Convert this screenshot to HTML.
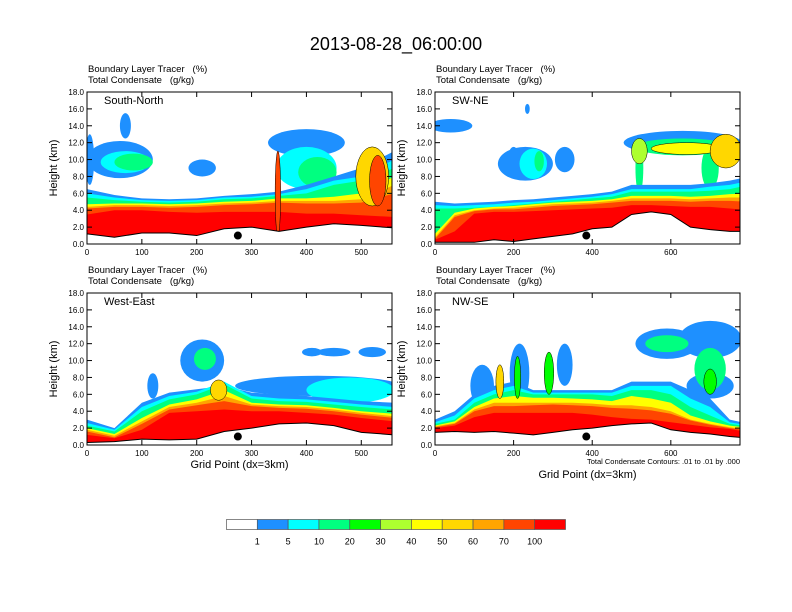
<!DOCTYPE html>
<html><head><meta charset="utf-8"><style>
html,body{margin:0;padding:0;background:#fff;}
svg{display:block;font-family:"Liberation Sans",sans-serif;}
</style></head><body>
<svg id="chart" width="792" height="612" viewBox="0 0 792 612">
<text x="396" y="50" text-anchor="middle" font-size="18">2013-08-28_06:00:00</text>
</svg>
<script>
// ---- data ----
const levelLabels = ["1","5","10","20","30","40","50","60","70","100"];
const levelColors = ["#ffffff","#1e90ff","#00ffff","#00ff80","#00ff00","#adff2f","#ffff00","#ffd700","#ffa500","#ff4500","#ff0000"];

const snXs = [0,50,100,150,200,250,300,350,400,450,500,560];
const snTerrain = [1.2,0.8,1.3,1.3,1.0,1.8,2.0,1.5,2.0,2.4,2.2,1.9];
const snBlue = [6.5,5.8,5.4,5.3,5.4,5.7,5.9,6.2,7.0,8.0,9.0,11.0];
const snCyan = [6.0,5.5,5.2,5.1,5.2,5.5,5.6,5.9,6.5,7.5,8.0,10.0];
const snGreen = [5.5,5.2,5.0,4.9,5.0,5.3,5.4,5.7,6.0,7.0,7.5,9.0];
const snYellow = [4.7,4.8,4.8,4.7,4.8,5.0,5.1,5.4,5.4,5.6,6.0,8.0];
const snOrange = [4.4,4.6,4.6,4.5,4.6,4.8,4.9,5.1,5.1,5.1,5.3,7.0];
const snOrangeRed = [4.2,4.4,4.4,4.3,4.4,4.6,4.7,4.9,4.8,4.8,4.9,6.0];
const snRed = [3.5,4.0,4.0,3.8,3.7,3.8,3.8,3.8,3.6,3.6,3.4,3.2];
const snBlobs = [[60,10,60,2.2,1],[70,9.7,45,1.3,2],[85,9.7,35,1.0,3],[5,10,8,3,1],[70,14,10,1.5,1],[210,9,25,1.0,1],[400,12,70,1.6,1],[400,9,55,2.5,2],[420,8.5,35,1.8,3],[348,6,5,5,9],[520,8,30,3.5,7],[530,7.5,15,3,9]];

const swXs = [0,50,100,150,200,250,300,350,400,450,500,550,600,650,700,750,800];
const swTerrain = [0.2,0.2,0.2,0.5,0.3,0.6,0.9,1.2,1.8,2.0,3.5,3.8,3.5,2.0,1.7,1.5,1.5];
const swBlue = [5.0,4.8,4.9,5.0,5.2,5.3,5.5,5.7,5.9,6.2,7.0,7.0,7.0,7.0,7.2,7.5,8.0];
const swCyan = [4.6,4.5,4.6,4.7,4.9,5.0,5.2,5.4,5.6,5.9,6.5,6.5,6.5,6.5,6.8,7.0,7.5];
const swGreen = [4.2,4.2,4.3,4.4,4.6,4.8,5.0,5.2,5.4,5.6,6.2,6.2,6.2,6.2,6.3,6.5,7.0];
const swYellow = [1.2,3.7,4.2,4.4,4.5,4.7,4.9,5.0,5.1,5.3,5.7,5.7,5.7,5.6,5.7,5.9,6.0];
const swOrange = [0.8,3.4,4.0,4.2,4.3,4.5,4.7,4.8,4.9,5.1,5.4,5.4,5.4,5.3,5.4,5.5,5.5];
const swOrangeRed = [0.6,3.2,3.9,4.1,4.1,4.3,4.5,4.6,4.7,4.9,5.1,5.1,5.1,5.0,5.1,5.1,5.0];
const swRed = [0.5,1.5,3.6,3.8,3.8,3.9,4.0,4.1,4.2,4.3,4.6,4.6,4.5,4.4,4.4,4.2,4.0];
const swBlobs = [[40,14,55,0.8,1],[230,9.5,70,2.0,1],[250,9.5,35,1.8,2],[265,9.8,12,1.2,3],[200,10,15,1.5,1],[330,10,25,1.5,1],[235,16,6,0.6,1],[630,12,150,1.4,1],[630,11.5,120,1.0,3],[640,11.3,90,0.7,6],[520,11,20,1.5,5],[520,9,10,3,3],[740,11,40,2.0,7],[700,9,22,2.5,3]];

const weXs = [0,50,100,150,200,250,300,350,400,450,500,560];
const weTerrain = [0.3,0.4,0.7,0.6,0.7,1.6,2.0,2.5,2.6,2.3,1.5,1.2];
const weBlue = [3.0,2.0,5.0,6.2,6.6,7.0,6.2,6.0,5.8,5.5,5.2,5.0];
const weCyan = [2.6,1.8,4.5,5.8,6.3,7.5,5.8,5.5,5.4,5.1,4.8,4.5];
const weGreen = [2.3,1.6,4.0,5.4,6.0,7.2,5.5,5.2,5.1,4.8,4.5,4.2];
const weYellow = [2.0,1.3,3.2,4.8,5.4,6.5,5.0,4.8,4.7,4.4,4.0,3.7];
const weOrange = [1.8,1.1,2.8,4.5,5.0,5.8,4.8,4.6,4.5,4.2,3.8,3.4];
const weOrangeRed = [1.6,0.9,2.5,4.2,4.7,5.2,4.6,4.4,4.3,4.0,3.6,3.2];
const weRed = [1.2,0.8,1.8,3.8,4.0,4.2,4.0,4.0,3.8,3.6,3.2,2.8];
const weBlobs = [[210,10,40,2.5,1],[215,10.2,20,1.3,3],[120,7,10,1.5,1],[420,7,150,1.2,1],[480,6.5,80,1.5,2],[520,11,25,0.6,1],[450,11,30,0.5,1],[410,11,18,0.5,1],[240,6.5,15,1.2,7]];

const nwXs = [0,50,100,150,200,250,300,350,400,450,500,550,600,650,700,750,800];
const nwTerrain = [1.5,1.6,1.5,1.6,1.4,1.2,1.5,1.8,2.0,2.3,2.5,2.6,1.8,1.5,1.3,1.0,0.8];
const nwBlue = [3.0,4.0,6.0,7.0,7.5,6.5,6.5,6.5,6.5,6.5,7.5,7.5,7.5,6.5,5.5,3.0,2.5];
const nwCyan = [2.7,3.5,5.5,6.5,7.0,6.2,6.2,6.2,6.2,6.2,7.0,7.0,7.0,5.5,4.5,2.7,2.3];
const nwGreen = [2.5,3.0,5.0,6.0,6.5,6.0,6.0,6.0,6.0,5.8,6.5,6.5,6.0,4.5,3.5,2.5,2.2];
const nwYellow = [2.3,2.8,4.5,5.5,5.8,5.6,5.6,5.5,5.4,5.2,5.8,5.5,5.0,3.5,2.8,2.3,2.0];
const nwOrange = [2.2,2.6,4.2,5.0,5.0,5.0,5.0,5.0,4.9,4.7,4.7,4.5,4.0,3.0,2.5,2.1,1.8];
const nwOrangeRed = [2.1,2.5,4.0,4.6,4.6,4.7,4.8,4.7,4.6,4.4,4.3,4.1,3.7,2.9,2.4,2.0,1.7];
const nwRed = [2.0,2.3,3.3,3.8,3.8,3.8,3.8,3.8,3.6,3.3,3.1,3.0,2.7,2.4,2.1,1.9,1.5];
const nwBlobs = [[120,7,30,2.5,1],[215,8.5,25,3.5,1],[330,9.5,20,2.5,1],[165,7.5,10,2,7],[210,8,8,2.5,4],[290,8.5,12,2.5,4],[590,12,80,1.8,1],[590,12,55,1.0,3],[700,12.5,80,2.2,1],[700,9,40,2.5,3],[700,7,60,1.5,1],[700,7.5,16,1.5,4]];

const xTicksShort = [0,100,200,300,400,500];
const xTicksLong = [0,200,400,600];
const yTicks = [0,2,4,6,8,10,12,14,16,18];

// ---- drawing ----
const svg = document.getElementById('chart');
const NS = 'http://www.w3.org/2000/svg';
function mk(tag, attrs, parent){ const e=document.createElementNS(NS,tag); for(const k in attrs) e.setAttribute(k,attrs[k]); (parent||svg).appendChild(e); return e; }

const panels = [
 {id:'south-north',label:'South-North',x0:87,y0:92,xmax:556,xs:snXs,ter:snTerrain,bands:[snBlue,snCyan,snGreen,snYellow,snOrange,snOrangeRed,snRed],blobs:snBlobs,ticks:xTicksShort,dot:275,xtitle:false},
 {id:'sw-ne',label:'SW-NE',x0:435,y0:92,xmax:776,xs:swXs,ter:swTerrain,bands:[swBlue,swCyan,swGreen,swYellow,swOrange,swOrangeRed,swRed],blobs:swBlobs,ticks:xTicksLong,dot:385,xtitle:false},
 {id:'west-east',label:'West-East',x0:87,y0:293,xmax:556,xs:weXs,ter:weTerrain,bands:[weBlue,weCyan,weGreen,weYellow,weOrange,weOrangeRed,weRed],blobs:weBlobs,ticks:xTicksShort,dot:275,xtitle:true},
 {id:'nw-se',label:'NW-SE',x0:435,y0:293,xmax:776,xs:nwXs,ter:nwTerrain,bands:[nwBlue,nwCyan,nwGreen,nwYellow,nwOrange,nwOrangeRed,nwRed],blobs:nwBlobs,ticks:xTicksLong,dot:385,xtitle:true,note:true}
];
const bandColorIdx = [1,2,3,6,8,9,10];
const W=305, H=152;

panels.forEach((p,pi)=>{
  const g = mk('g',{});
  
  
  const sx = v => p.x0 + v/p.xmax*W;
  const sy = v => p.y0 + H - v/18*H;
  const cp = mk('clipPath',{id:'clip'+pi},g);
  mk('rect',{x:p.x0,y:p.y0,width:W,height:H},cp);
  const plot = mk('g',{'clip-path':'url(#clip'+pi+')'},g);
  
  
  mk('rect',{x:p.x0,y:p.y0,width:W,height:H,fill:'#fff'},plot);
  p.blobs.slice().sort((a,b)=>a[4]-b[4]).forEach(b=>{
    const el = mk('ellipse',{cx:sx(b[0]),cy:sy(b[1]),rx:b[2]/p.xmax*W,ry:b[3]/18*H,fill:levelColors[b[4]]},plot);
    
    
  });
  p.bands.forEach((top,bi)=>{
    let d = 'M'+sx(p.xs[0])+','+sy(p.ter[0]);
    p.xs.forEach((x,i)=>{ d += ' L'+sx(x)+','+sy(top[i]); });
    for(let i=p.xs.length-1;i>=0;i--) d += ' L'+sx(p.xs[i])+','+sy(p.ter[i]);
    const el = mk('path',{d:d+'Z',fill:levelColors[bandColorIdx[bi]]},plot);
    
    
  });
  p.blobs.filter(b=>b[4]>=4).forEach(b=>{
    const el = mk('ellipse',{cx:sx(b[0]),cy:sy(b[1]),rx:b[2]/p.xmax*W,ry:b[3]/18*H,fill:levelColors[b[4]],stroke:'#000','stroke-width':0.5},plot);
    
    
  });
  let td = 'M'+sx(p.xs[0])+','+sy(0);
  p.xs.forEach((x,i)=>{ td += ' L'+sx(x)+','+sy(p.ter[i]); });
  td += ' L'+sx(p.xs[p.xs.length-1])+','+sy(0)+'Z';
  const tf = mk('path',{d:td,fill:'#fff',stroke:'#000','stroke-width':1},plot);
  
  
  const dot = mk('circle',{cx:sx(p.dot),cy:sy(1.0),r:4,fill:'#000'},plot);
  
  
  mk('rect',{x:p.x0,y:p.y0,width:W,height:H,fill:'none',stroke:'#000','stroke-width':1},g);
  yTicks.forEach(v=>{
    mk('line',{x1:p.x0,x2:p.x0+5,y1:sy(v),y2:sy(v),stroke:'#000'},g);
    mk('line',{x1:p.x0+W,x2:p.x0+W-5,y1:sy(v),y2:sy(v),stroke:'#000'},g);
    const t = mk('text',{x:p.x0-3,y:sy(v)+3,'text-anchor':'end','font-size':8},g);
    t.textContent = v.toFixed(1);
    
    
  });
  p.ticks.forEach(v=>{
    mk('line',{x1:sx(v),x2:sx(v),y1:p.y0+H,y2:p.y0+H-5,stroke:'#000'},g);
    mk('line',{x1:sx(v),x2:sx(v),y1:p.y0,y2:p.y0+5,stroke:'#000'},g);
    const t = mk('text',{x:sx(v),y:p.y0+H+11,'text-anchor':'middle','font-size':8},g);
    t.textContent = v;
    
    
  });
  const lab = mk('text',{x:p.x0+17,y:p.y0+12,'font-size':11},g);
  lab.textContent = p.label;
  
  
  const t1 = mk('text',{x:p.x0+1,y:p.y0-20,'font-size':9.5},g);
  t1.textContent = 'Boundary Layer Tracer\u00a0\u00a0\u00a0(%)';
  
  
  const t2 = mk('text',{x:p.x0+1,y:p.y0-9,'font-size':9.5},g);
  t2.textContent = 'Total Condensate\u00a0\u00a0\u00a0(g/kg)';
  
  
  const yt = mk('text',{x:0,y:0,'text-anchor':'middle','font-size':11,transform:'translate('+(p.x0-30)+','+(p.y0+H/2)+') rotate(-90)'},g);
  yt.textContent = 'Height (km)';
  
  
  if(p.xtitle){
    const xt = mk('text',{x:p.x0+W/2,y:p.y0+H+(p.note?33:23),'text-anchor':'middle','font-size':11},g);
    xt.textContent = 'Grid Point (dx=3km)';
    
    
  }
  if(p.note){
    const nt = mk('text',{x:p.x0+W,y:p.y0+H+19,'text-anchor':'end','font-size':7.5},g);
    nt.textContent = 'Total Condensate Contours: .01 to .01 by .000';
    
    
  }
});

const cb = mk('g',{});


const cbX=226.5, cbY=519.5, cbW=339/11, cbH=10;
levelColors.forEach((c,i)=>{
  const r = mk('rect',{x:cbX+i*cbW,y:cbY,width:cbW,height:cbH,fill:c,stroke:'#555','stroke-width':0.7},cb);
  
  
});
levelLabels.forEach((l,i)=>{
  const t = mk('text',{x:cbX+(i+1)*cbW,y:cbY+cbH+15,'text-anchor':'middle','font-size':9},cb);
  t.textContent = l;
  
  
});
</script>
</body></html>
